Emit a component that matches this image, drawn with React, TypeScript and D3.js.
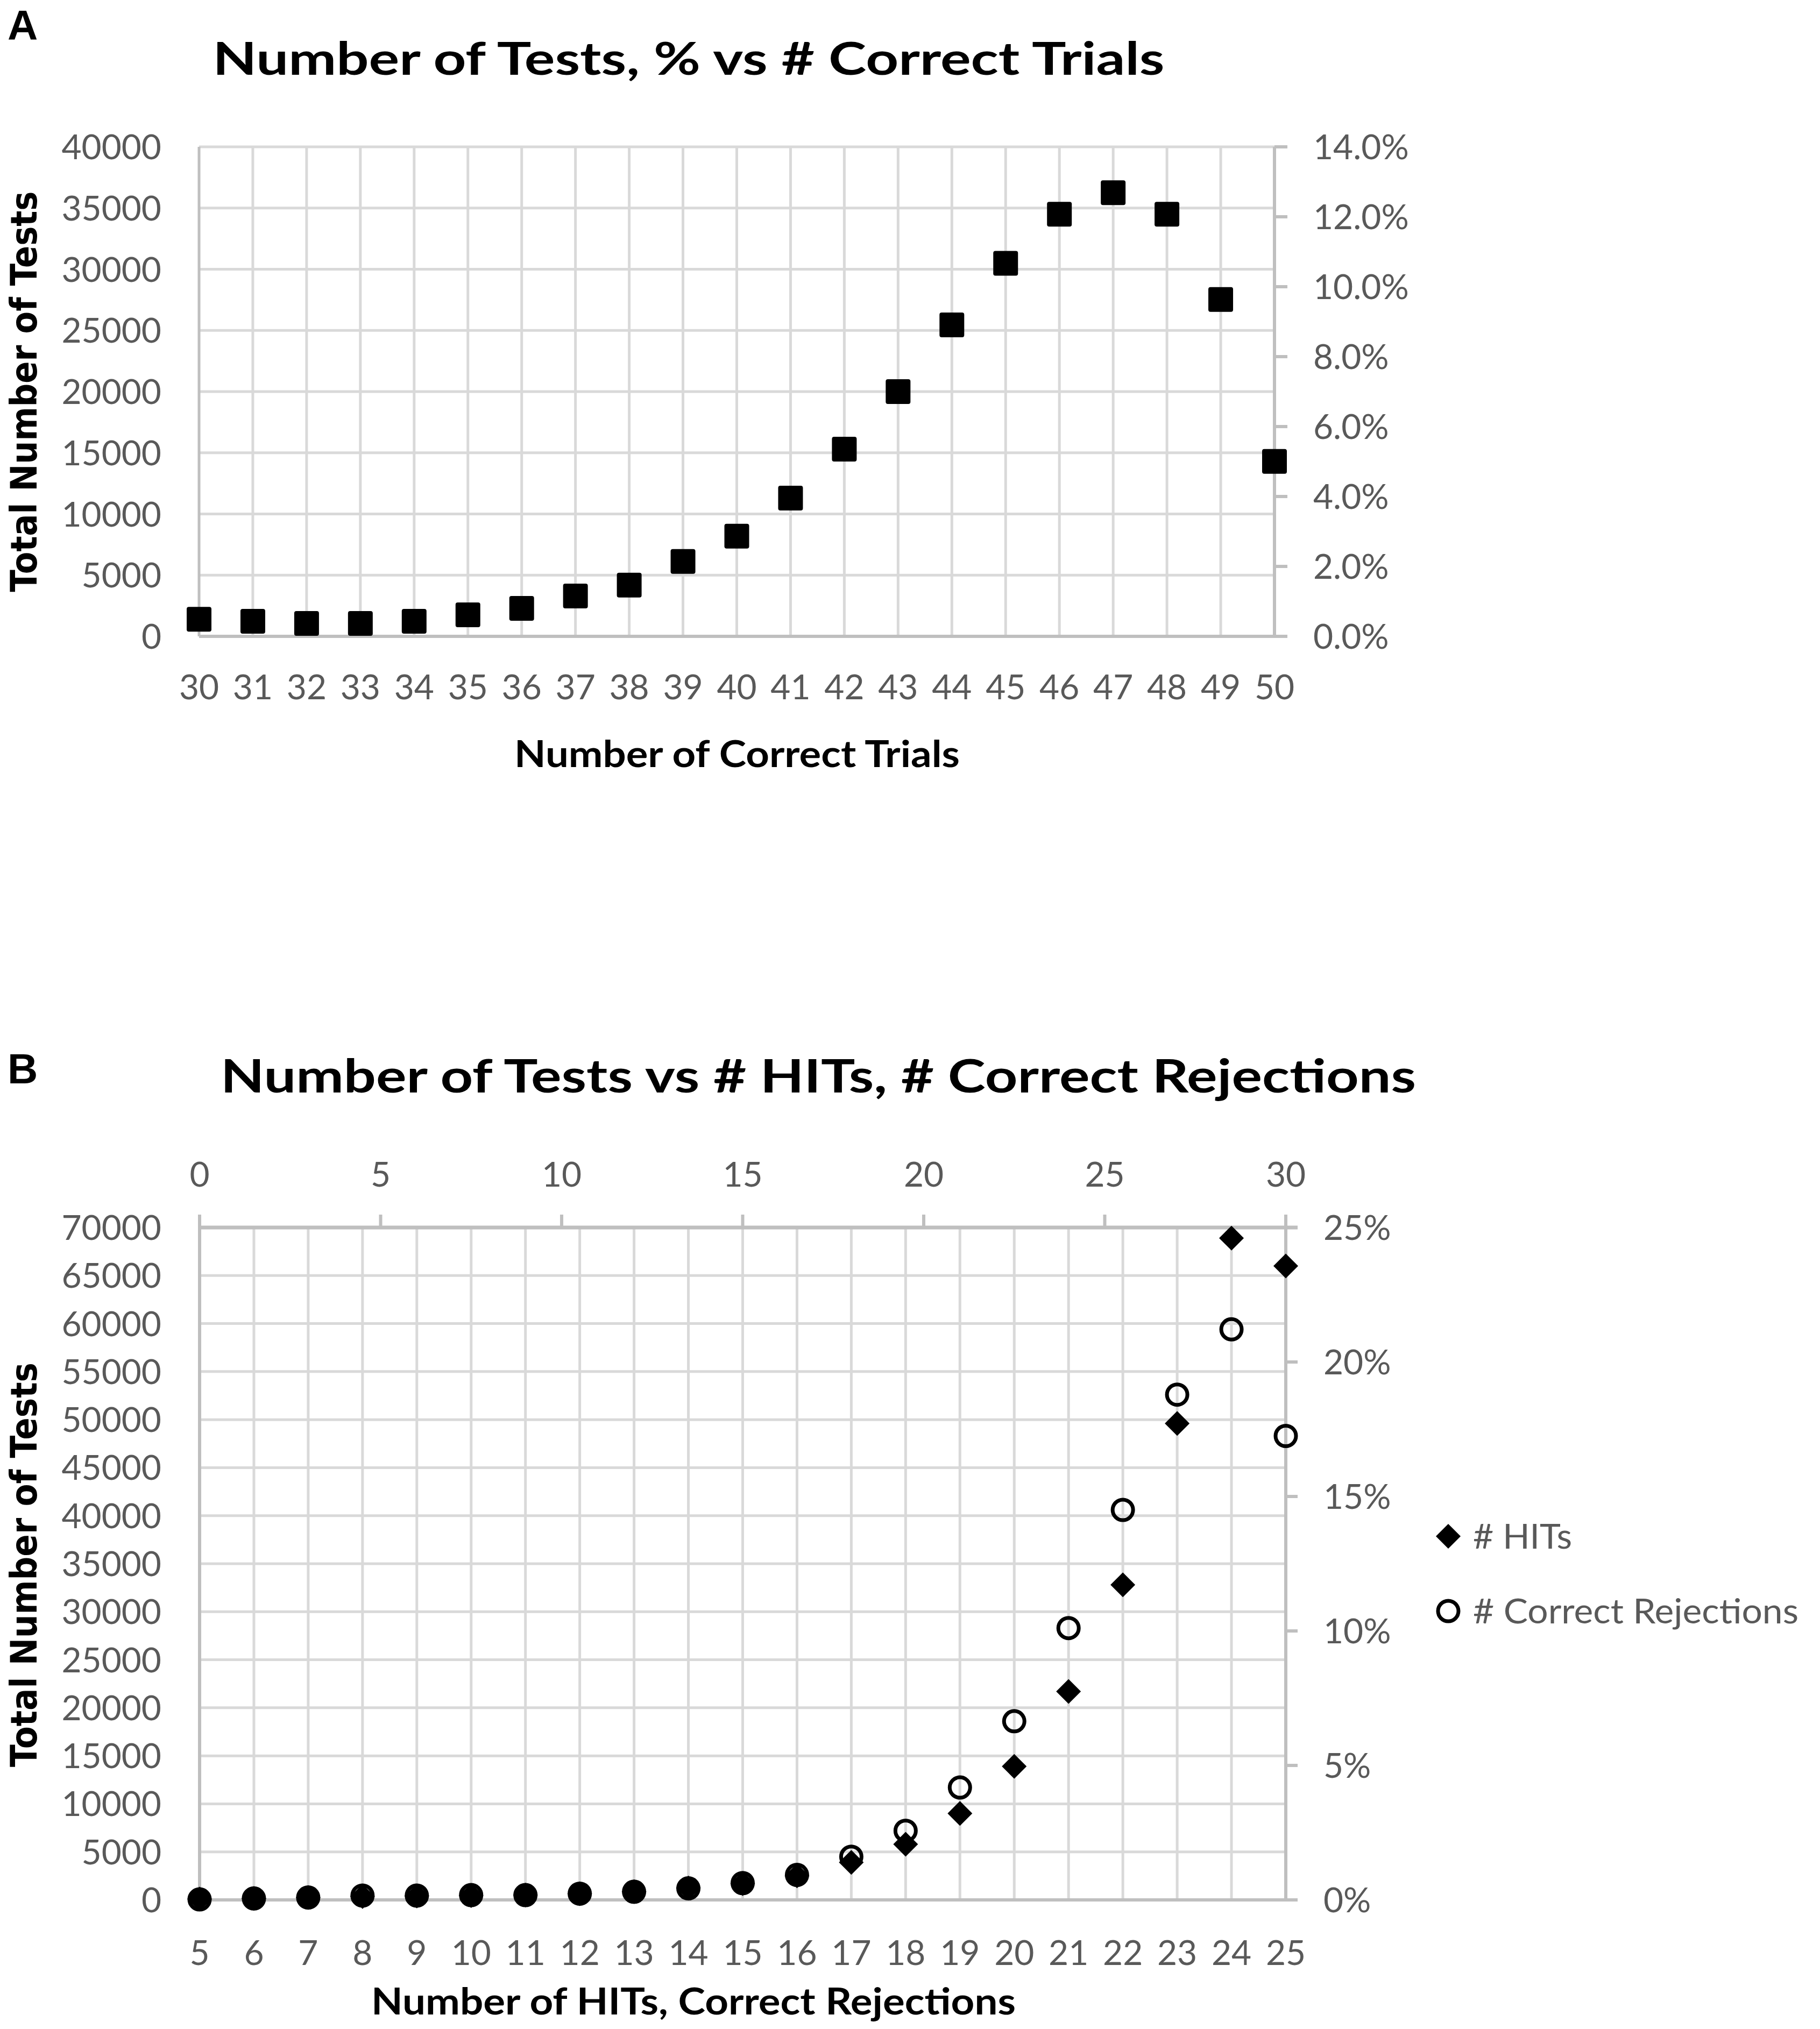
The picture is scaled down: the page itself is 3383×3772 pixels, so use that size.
import * as d3 from 'd3';

// ---- panel A data ----
const correctTrials = [30, 31, 32, 33, 34, 35, 36, 37, 38, 39, 40, 41, 42, 43, 44, 45, 46, 47, 48, 49, 50];
const testsByTrials = [1400, 1230, 1060, 1060, 1230, 1760, 2290, 3300, 4190, 6120, 8190, 11300, 15300, 20000, 25450, 30480, 34500, 36250, 34500, 27530, 14300];
const countTicksA = [0, 5000, 10000, 15000, 20000, 25000, 30000, 35000, 40000];
const pctTicksA = [0, 0.02, 0.04, 0.06, 0.08, 0.1, 0.12, 0.14];

// ---- panel B data ----
const hitCategories = [5, 6, 7, 8, 9, 10, 11, 12, 13, 14, 15, 16, 17, 18, 19, 20, 21, 22, 23, 24, 25];
const hitsTests = [100, 150, 250, 350, 400, 450, 500, 650, 850, 1250, 1700, 2500, 3900, 5800, 9000, 13900, 21700, 32800, 49600, 68900, 66000];
const rejectionTests = [50, 150, 250, 450, 450, 500, 500, 650, 850, 1200, 1750, 2600, 4500, 7200, 11700, 18600, 28300, 40600, 52600, 59400, 48300];
const countTicksB = [0, 5000, 10000, 15000, 20000, 25000, 30000, 35000, 40000, 45000, 50000, 55000, 60000, 65000, 70000];
const pctTicksB = [0, 0.05, 0.1, 0.15, 0.2, 0.25];
const topTicksB = [0, 5, 10, 15, 20, 25, 30];
const legendLabels = ['# HITs', '# Correct Rejections'];

const LABEL_FONT = "Lato, 'Open Sans', sans-serif";
const YTITLE_FONT = "'DejaVu Sans', Verdana, sans-serif";
const GRID = '#d9d9d9';
const AXIS = '#bfbfbf';
const TICK_TEXT = '#595959';

// diamond marker, half-diagonal in px
const DIA = 23;
const diamondPath = `M0,${-DIA}L${DIA},0L0,${DIA}L${-DIA},0Z`;

const App = () => {
  // Panel A scales
  const xA = d3.scaleLinear().domain([30, 50]).range([370, 2369]);
  const yA = d3.scaleLinear().domain([0, 40000]).range([1183, 273]);
  const yA2 = d3.scaleLinear().domain([0, 0.14]).range([1183, 273]);
  const fmtA = d3.format('.1%');

  // Panel B scales
  const xB = d3.scaleLinear().domain([5, 25]).range([371, 2390]);
  const xBTop = d3.scaleLinear().domain([0, 30]).range([371, 2390]);
  const yB = d3.scaleLinear().domain([0, 70000]).range([3532, 2282]);
  const yB2 = d3.scaleLinear().domain([0, 0.25]).range([3532, 2282]);
  const fmtB = d3.format('.0%');

  return (
    <svg width={3383} height={3772} style={{ position: 'absolute', left: 0, top: 0, background: '#fff' }}>
      <rect width={3383} height={3772} fill="#fff" />

      {/* ================= Panel A ================= */}
      <text x={14} y={74} fontFamily="'Liberation Sans', Arial, sans-serif" fontWeight="bold" fontSize={78}>A</text>
      <text x={1280} y={139} textAnchor="middle" fontFamily={LABEL_FONT} fontWeight="bold" fontSize={84}
        textLength={1769} lengthAdjust="spacingAndGlyphs">Number of Tests, % vs # Correct Trials</text>

      {/* gridlines */}
      {countTicksA.map((t) => (
        <line key={'ga' + t} x1={xA(30)} x2={xA(50)} y1={yA(t)} y2={yA(t)} stroke={GRID} strokeWidth={5} />
      ))}
      {correctTrials.map((c) => (
        <line key={'va' + c} x1={xA(c)} x2={xA(c)} y1={yA(40000)} y2={yA(0)} stroke={c === 30 ? AXIS : GRID} strokeWidth={5} />
      ))}
      {/* bottom + right axes */}
      <line x1={xA(30)} x2={xA(50) + 24} y1={yA(0)} y2={yA(0)} stroke={AXIS} strokeWidth={6} />
      <line x1={xA(50)} x2={xA(50)} y1={yA(40000)} y2={yA(0)} stroke={AXIS} strokeWidth={6} />
      {pctTicksA.map((p) => (
        <line key={'ta' + p} x1={xA(50)} x2={xA(50) + 24} y1={yA2(p)} y2={yA2(p)} stroke={AXIS} strokeWidth={6} />
      ))}

      {/* tick labels */}
      {countTicksA.map((t) => (
        <text key={'la' + t} x={300} y={yA(t)} dy="0.36em" textAnchor="end" fontFamily={LABEL_FONT} fontSize={64} fill={TICK_TEXT}>{t}</text>
      ))}
      {pctTicksA.map((p) => (
        <text key={'ra' + p} x={2441} y={yA2(p)} dy="0.36em" fontFamily={LABEL_FONT} fontSize={64} fill={TICK_TEXT}>{fmtA(p)}</text>
      ))}
      {correctTrials.map((c) => (
        <text key={'xa' + c} x={xA(c)} y={1300} textAnchor="middle" fontFamily={LABEL_FONT} fontSize={64} fill={TICK_TEXT}>{c}</text>
      ))}

      {/* axis titles */}
      <text x={1370} y={1426} textAnchor="middle" fontFamily={LABEL_FONT} fontWeight="bold" fontSize={68}
        textLength={828} lengthAdjust="spacingAndGlyphs">Number of Correct Trials</text>
      <text transform={`translate(68,${728}) rotate(-90)`} textAnchor="middle" fontFamily={YTITLE_FONT} fontWeight="bold" fontSize={68}
        textLength={745} lengthAdjust="spacingAndGlyphs">Total Number of Tests</text>

      {/* square markers */}
      {correctTrials.map((c, i) => (
        <rect key={'ma' + c} x={xA(c) - 23} y={yA(testsByTrials[i]) - 23} width={46} height={46} rx={4} fill="#000" />
      ))}

      {/* ================= Panel B ================= */}
      <text x={14} y={2014} fontFamily="'Liberation Sans', Arial, sans-serif" fontWeight="bold" fontSize={78}>B</text>
      <text x={1521} y={2031} textAnchor="middle" fontFamily={LABEL_FONT} fontWeight="bold" fontSize={86}
        textLength={2222} lengthAdjust="spacingAndGlyphs">Number of Tests vs # HITs, # Correct Rejections</text>

      {/* gridlines */}
      {countTicksB.map((t) => (
        <line key={'gb' + t} x1={xB(5)} x2={xB(25)} y1={yB(t)} y2={yB(t)} stroke={GRID} strokeWidth={5} />
      ))}
      {hitCategories.map((c) => (
        <line key={'vb' + c} x1={xB(c)} x2={xB(c)} y1={yB(70000)} y2={yB(0)} stroke={GRID} strokeWidth={5} />
      ))}
      {/* axes */}
      <line x1={xB(5)} x2={xB(25)} y1={yB(0)} y2={yB(0)} stroke={AXIS} strokeWidth={6} />
      <line x1={xB(5)} x2={xB(5)} y1={2258} y2={yB(0)} stroke={AXIS} strokeWidth={6} />
      <line x1={xB(25)} x2={xB(25)} y1={2258} y2={yB(0)} stroke={AXIS} strokeWidth={6} />
      <line x1={xBTop(0)} x2={xB(25) + 22} y1={yB(70000)} y2={yB(70000)} stroke={AXIS} strokeWidth={7} />
      {topTicksB.map((t) => (
        <line key={'tt' + t} x1={xBTop(t)} x2={xBTop(t)} y1={2258} y2={yB(70000)} stroke={AXIS} strokeWidth={6} />
      ))}
      {pctTicksB.map((p) => (
        <line key={'tb' + p} x1={xB(25)} x2={xB(25) + 22} y1={yB2(p)} y2={yB2(p)} stroke={AXIS} strokeWidth={6} />
      ))}

      {/* tick labels */}
      {countTicksB.map((t) => (
        <text key={'lb' + t} x={300} y={yB(t)} dy="0.36em" textAnchor="end" fontFamily={LABEL_FONT} fontSize={64} fill={TICK_TEXT}>{t}</text>
      ))}
      {pctTicksB.map((p) => (
        <text key={'rb' + p} x={2460} y={yB2(p)} dy="0.36em" fontFamily={LABEL_FONT} fontSize={64} fill={TICK_TEXT}>{fmtB(p)}</text>
      ))}
      {topTicksB.map((t) => (
        <text key={'ut' + t} x={xBTop(t)} y={2206} textAnchor="middle" fontFamily={LABEL_FONT} fontSize={64} fill={TICK_TEXT}>{t}</text>
      ))}
      {hitCategories.map((c) => (
        <text key={'xb' + c} x={xB(c)} y={3653} textAnchor="middle" fontFamily={LABEL_FONT} fontSize={64} fill={TICK_TEXT}>{c}</text>
      ))}

      {/* axis titles */}
      <text x={1289} y={3745} textAnchor="middle" fontFamily={LABEL_FONT} fontWeight="bold" fontSize={68}
        textLength={1198} lengthAdjust="spacingAndGlyphs">Number of HITs, Correct Rejections</text>
      <text transform={`translate(68,${2909}) rotate(-90)`} textAnchor="middle" fontFamily={YTITLE_FONT} fontWeight="bold" fontSize={68}
        textLength={752} lengthAdjust="spacingAndGlyphs">Total Number of Tests</text>

      {/* markers: open circles first, diamonds on top */}
      {hitCategories.map((c, i) => (
        <circle key={'cr' + c} cx={xB(c)} cy={yB(rejectionTests[i])} r={19} fill="none" stroke="#000" strokeWidth={7} />
      ))}
      {hitCategories.map((c, i) => (
        <path key={'hd' + c} d={diamondPath} transform={`translate(${xB(c)},${yB(hitsTests[i])})`} fill="#000" />
      ))}

      {/* legend */}
      <path d={diamondPath} transform="translate(2692,2856)" fill="#000" />
      <text x={2738} y={2856} dy="0.36em" fontFamily={LABEL_FONT} fontSize={64} fill={TICK_TEXT}
        textLength={184} lengthAdjust="spacingAndGlyphs">{legendLabels[0]}</text>
      <circle cx={2692} cy={2995} r={19} fill="none" stroke="#000" strokeWidth={7} />
      <text x={2738} y={2995} dy="0.36em" fontFamily={LABEL_FONT} fontSize={64} fill={TICK_TEXT}
        textLength={605} lengthAdjust="spacingAndGlyphs">{legendLabels[1]}</text>
    </svg>
  );
};

export default App;
